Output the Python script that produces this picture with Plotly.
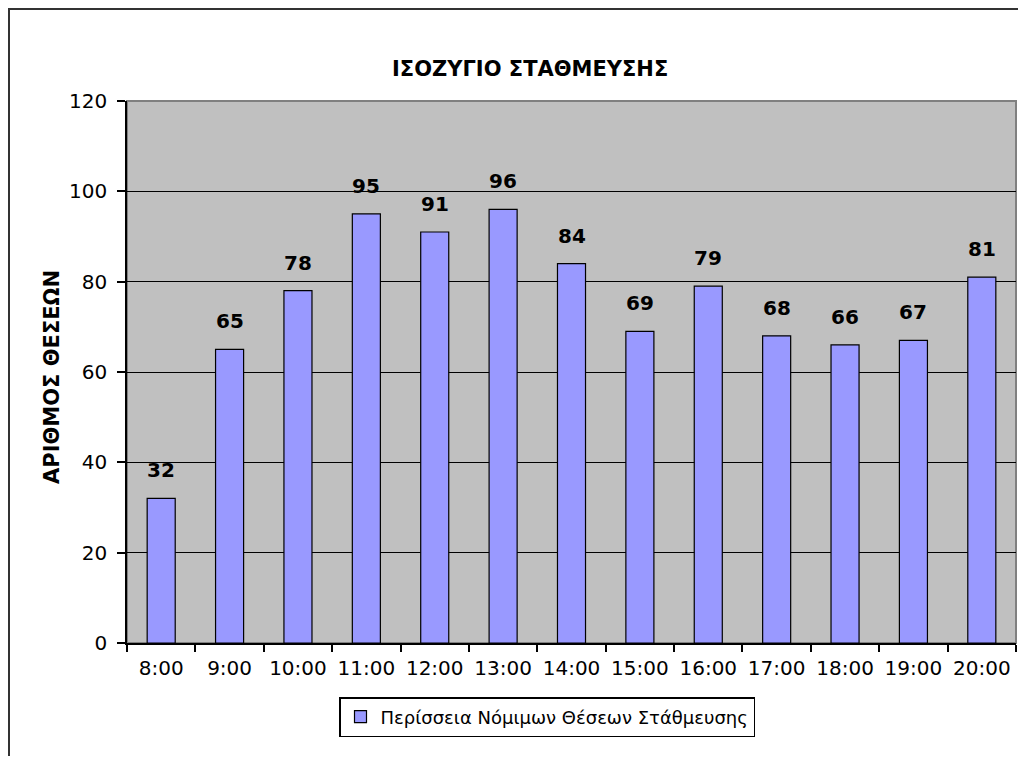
import plotly.graph_objects as go

hours = ["8:00", "9:00", "10:00", "11:00", "12:00", "13:00", "14:00",
         "15:00", "16:00", "17:00", "18:00", "19:00", "20:00"]
surplus = [32, 65, 78, 95, 91, 96, 84, 69, 79, 68, 66, 67, 81]
series_name = "Περίσσεια Νόμιμων Θέσεων Στάθμευσης"
title_text = "ΙΣΟΖΥΓΙΟ ΣΤΑΘΜΕΥΣΗΣ"
y_title = "ΑΡΙΘΜΟΣ ΘΕΣΕΩΝ"

# page body has an 8px margin: figure coordinates = page coordinates - 8
OFF = 8
W, H = 1026 - 2 * OFF, 764 - 2 * OFF
L, R, T, B = 127 - OFF, 1016 - OFF, 101 - OFF, 643 - OFF
FONT = "DejaVu Sans, Liberation Sans, Arial"


def px(x):
    return (x - OFF - L) / (R - L)


def py(y):
    return (B - (y - OFF)) / (B - T)


fig = go.Figure()
fig.add_trace(go.Bar(
    x=hours, y=surplus, name=series_name,
    marker=dict(color="#9999FF", line=dict(color="black", width=1.2)),
    showlegend=True,
))

for h, v in zip(hours, surplus):
    fig.add_annotation(x=h, y=v, text=str(v), showarrow=False,
                       yanchor="middle", yshift=28,
                       font=dict(family=FONT, size=20, color="black", weight="bold"))

fig.add_annotation(x=px(530), y=py(55), xref="paper", yref="paper", text=title_text,
                   showarrow=False, font=dict(family=FONT, size=21, color="black", weight="bold"))
fig.add_annotation(x=px(38), y=py(377), xref="paper", yref="paper", text=y_title, textangle=-90,
                   showarrow=False, font=dict(family=FONT, size=21, color="black", weight="bold"))

# outer chart border (top and left edges visible)
fig.add_shape(type="rect", xref="paper", yref="paper",
              x0=px(9), y0=py(800), x1=px(1060), y1=py(9),
              line=dict(color="#333333", width=2), layer="below")
# plot area border
fig.add_shape(type="rect", xref="paper", yref="paper",
              x0=0, y0=0, x1=1, y1=1, line=dict(color="#808080", width=2), layer="below")

fig.update_layout(
    width=W, height=H,
    margin=dict(l=L, r=W - R, t=T, b=H - B),
    paper_bgcolor="white", plot_bgcolor="#C0C0C0",
    bargap=0.59,
    font=dict(family=FONT, size=20, color="black"),
    legend=dict(orientation="h", x=px(547), xanchor="center", y=py(717), yanchor="middle",
                bordercolor="black", borderwidth=1.5, bgcolor="white",
                font=dict(family=FONT, size=18, color="black"), itemwidth=30),
)
fig.update_xaxes(showline=True, linecolor="black", linewidth=1.5, ticks="outside",
                 tickson="boundaries", ticklen=7, tickcolor="black", tickwidth=1.5,
                 showgrid=False, tickfont=dict(family=FONT, size=20), ticklabelstandoff=6)
fig.update_yaxes(range=[0, 120], dtick=20, showline=True, linecolor="black", linewidth=1.5,
                 ticks="outside", ticklen=8, tickcolor="black", tickwidth=1.5,
                 showgrid=True, gridcolor="black", gridwidth=1, zeroline=False,
                 tickfont=dict(family=FONT, size=20), ticklabelstandoff=6)

fig.write_html("out.html")
